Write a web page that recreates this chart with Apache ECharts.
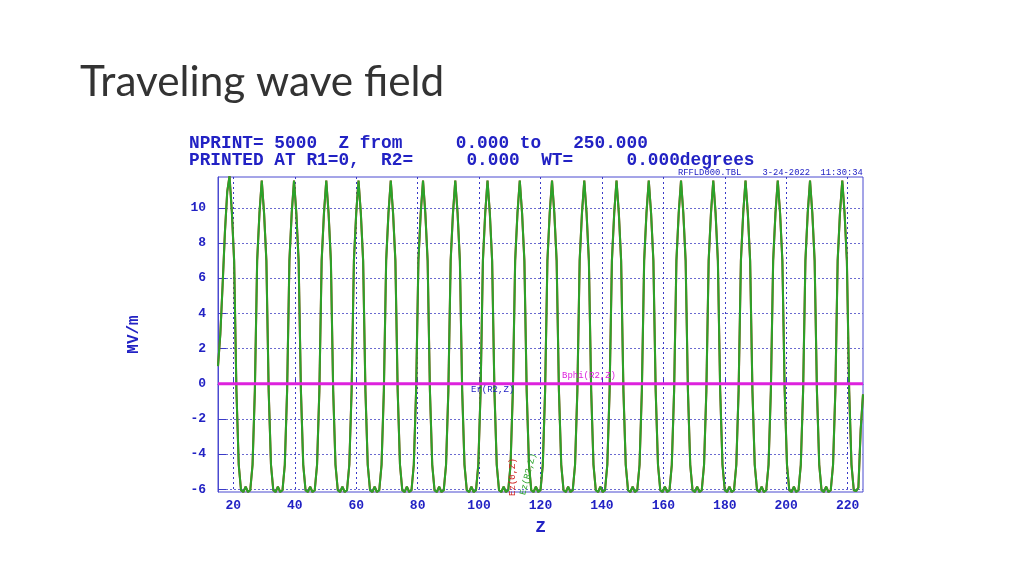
<!DOCTYPE html>
<html>
<head>
<meta charset="utf-8">
<script src="https://cdn.jsdelivr.net/npm/echarts@6/dist/echarts.min.js"></script>
<style>html,body{margin:0;padding:0;background:#fff;}#c{width:1024px;height:576px;}</style>
</head>
<body>
<div id="c"></div>
<script>
// ---- data ----
const zValues = [
  15, 15.75, 16.5, 17.25, 18,
  18.75, 19.5, 20.25, 21, 21.75, 22.5, 23.25, 24, 24.75, 25.5, 26.25, 27, 27.75, 28.5,
  29.25, 30, 30.75, 31.5, 32.25, 33, 33.75, 34.5, 35.25, 36, 36.75, 37.5, 38.25, 39,
  39.75, 40.5, 41.25, 42, 42.75, 43.5, 44.25, 45, 45.75, 46.5, 47.25, 48, 48.75, 49.5,
  50.25, 51, 51.75, 52.5, 53.25, 54, 54.75, 55.5, 56.25, 57, 57.75, 58.5, 59.25, 60,
  60.75, 61.5, 62.25, 63, 63.75, 64.5, 65.25, 66, 66.75, 67.5, 68.25, 69, 69.75, 70.5,
  71.25, 72, 72.75, 73.5, 74.25, 75, 75.75, 76.5, 77.25, 78, 78.75, 79.5, 80.25, 81,
  81.75, 82.5, 83.25, 84, 84.75, 85.5, 86.25, 87, 87.75, 88.5, 89.25, 90, 90.75, 91.5,
  92.25, 93, 93.75, 94.5, 95.25, 96, 96.75, 97.5, 98.25, 99, 99.75, 100.5, 101.25, 102,
  102.75, 103.5, 104.25, 105, 105.75, 106.5, 107.25, 108, 108.75, 109.5, 110.25, 111, 111.75, 112.5,
  113.25, 114, 114.75, 115.5, 116.25, 117, 117.75, 118.5, 119.25, 120, 120.75, 121.5, 122.25, 123,
  123.75, 124.5, 125.25, 126, 126.75, 127.5, 128.25, 129, 129.75, 130.5, 131.25, 132, 132.75, 133.5,
  134.25, 135, 135.75, 136.5, 137.25, 138, 138.75, 139.5, 140.25, 141, 141.75, 142.5, 143.25, 144,
  144.75, 145.5, 146.25, 147, 147.75, 148.5, 149.25, 150, 150.75, 151.5, 152.25, 153, 153.75, 154.5,
  155.25, 156, 156.75, 157.5, 158.25, 159, 159.75, 160.5, 161.25, 162, 162.75, 163.5, 164.25, 165,
  165.75, 166.5, 167.25, 168, 168.75, 169.5, 170.25, 171, 171.75, 172.5, 173.25, 174, 174.75, 175.5,
  176.25, 177, 177.75, 178.5, 179.25, 180, 180.75, 181.5, 182.25, 183, 183.75, 184.5, 185.25, 186,
  186.75, 187.5, 188.25, 189, 189.75, 190.5, 191.25, 192, 192.75, 193.5, 194.25, 195, 195.75, 196.5,
  197.25, 198, 198.75, 199.5, 200.25, 201, 201.75, 202.5, 203.25, 204, 204.75, 205.5, 206.25, 207,
  207.75, 208.5, 209.25, 210, 210.75, 211.5, 212.25, 213, 213.75, 214.5, 215.25, 216, 216.75, 217.5,
  218.25, 219, 219.75, 220.5, 221.25, 222, 222.75, 223.5, 224.25, 225
];
const ezValues = [
  1.0, 2.8, 5.6, 8.6, 10.9,
  11.8, 9.8, 7.0, -0.4, -4.6, -6.05, -6.15, -5.85, -6.15, -6.05, -4.6, -0.4, 7.0, 9.7,
  11.55, 9.7, 7.0, -0.4, -4.6, -6.05, -6.15, -5.85, -6.15, -6.05, -4.6, -0.4, 7.0, 9.7,
  11.55, 9.7, 7.0, -0.4, -4.6, -6.05, -6.15, -5.85, -6.15, -6.05, -4.6, -0.4, 7.0, 9.7,
  11.55, 9.7, 7.0, -0.4, -4.6, -6.05, -6.15, -5.85, -6.15, -6.05, -4.6, -0.4, 7.0, 9.7,
  11.55, 9.7, 7.0, -0.4, -4.6, -6.05, -6.15, -5.85, -6.15, -6.05, -4.6, -0.4, 7.0, 9.7,
  11.55, 9.7, 7.0, -0.4, -4.6, -6.05, -6.15, -5.85, -6.15, -6.05, -4.6, -0.4, 7.0, 9.7,
  11.55, 9.7, 7.0, -0.4, -4.6, -6.05, -6.15, -5.85, -6.15, -6.05, -4.6, -0.4, 7.0, 9.7,
  11.55, 9.7, 7.0, -0.4, -4.6, -6.05, -6.15, -5.85, -6.15, -6.05, -4.6, -0.4, 7.0, 9.7,
  11.55, 9.7, 7.0, -0.4, -4.6, -6.05, -6.15, -5.85, -6.15, -6.05, -4.6, -0.4, 7.0, 9.7,
  11.55, 9.7, 7.0, -0.4, -4.6, -6.05, -6.15, -5.85, -6.15, -6.05, -4.6, -0.4, 7.0, 9.7,
  11.55, 9.7, 7.0, -0.4, -4.6, -6.05, -6.15, -5.85, -6.15, -6.05, -4.6, -0.4, 7.0, 9.7,
  11.55, 9.7, 7.0, -0.4, -4.6, -6.05, -6.15, -5.85, -6.15, -6.05, -4.6, -0.4, 7.0, 9.7,
  11.55, 9.7, 7.0, -0.4, -4.6, -6.05, -6.15, -5.85, -6.15, -6.05, -4.6, -0.4, 7.0, 9.7,
  11.55, 9.7, 7.0, -0.4, -4.6, -6.05, -6.15, -5.85, -6.15, -6.05, -4.6, -0.4, 7.0, 9.7,
  11.55, 9.7, 7.0, -0.4, -4.6, -6.05, -6.15, -5.85, -6.15, -6.05, -4.6, -0.4, 7.0, 9.7,
  11.55, 9.7, 7.0, -0.4, -4.6, -6.05, -6.15, -5.85, -6.15, -6.05, -4.6, -0.4, 7.0, 9.7,
  11.55, 9.7, 7.0, -0.4, -4.6, -6.05, -6.15, -5.85, -6.15, -6.05, -4.6, -0.4, 7.0, 9.7,
  11.55, 9.7, 7.0, -0.4, -4.6, -6.05, -6.15, -5.85, -6.15, -6.05, -4.6, -0.4, 7.0, 9.7,
  11.55, 9.7, 7.0, -0.4, -4.6, -6.05, -6.15, -5.85, -6.15, -6.05, -4.6, -0.4, 7.0, 9.7,
  11.55, 9.7, 7.0, -0.4, -4.6, -6.05, -6.1, -5.9, -2.6, -0.6
];
const erZ = [15, 225];
const erValues = [0, 0];
const bphiZ = [15, 225];
const bphiValues = [0, 0];
const xTicks = [20, 40, 60, 80, 100, 120, 140, 160, 180, 200, 220];
const yTicks = [-6, -4, -2, 0, 2, 4, 6, 8, 10];
const xRange = [15, 225];
const yRange = [-6.15, 11.75];

// ---- chart ----
const BLUE = '#2222c4';
const MONO = '"Liberation Mono", "DejaVu Sans Mono", monospace';
const pairs = (xs, ys) => xs.map((x, i) => [x, ys[i]]);

const chart = echarts.init(document.getElementById('c'), null, {renderer: 'canvas'});
chart.setOption({
  backgroundColor: '#ffffff',
  animation: false,
  grid: {left: 218, top: 177, width: 645, height: 315, show: true,
         borderColor: '#4a4ad0', borderWidth: 1, backgroundColor: 'transparent'},
  xAxis: {
    type: 'value', min: xRange[0], max: xRange[1],
    name: 'Z', nameLocation: 'middle', nameGap: 27,
    nameTextStyle: {fontFamily: MONO, fontWeight: 'bold', fontSize: 17, color: BLUE},
    axisLine: {show: true, lineStyle: {color: '#4a4ad0', width: 1}},
    axisTick: {show: true, inside: true, length: 6, customValues: xTicks, lineStyle: {color: '#3a3ac8'}},
    axisLabel: {customValues: xTicks, margin: 7, fontFamily: MONO, fontWeight: 'bold', fontSize: 13, color: BLUE},
    splitLine: {show: true, lineStyle: {color: '#3a3ac8', type: [2, 3], width: 1}}
  },
  yAxis: {
    type: 'value', min: yRange[0], max: yRange[1],
    name: 'MV/m', nameLocation: 'middle', nameGap: 76, nameRotate: 90,
    nameTextStyle: {fontFamily: MONO, fontWeight: 'bold', fontSize: 16, color: BLUE},
    axisLine: {show: true, lineStyle: {color: '#4a4ad0', width: 1}},
    axisTick: {show: true, inside: true, length: 8, customValues: yTicks, lineStyle: {color: '#3a3ac8'}},
    axisLabel: {customValues: yTicks, margin: 12, fontFamily: MONO, fontWeight: 'bold', fontSize: 13, color: BLUE},
    splitLine: {show: true, lineStyle: {color: '#6a6ad0', type: [2, 2], width: 1}}
  },
  series: [
    {name: 'Ez(0,Z)', type: 'line', data: pairs(zValues, ezValues), showSymbol: false, z: 2,
     lineStyle: {color: '#b83a20', width: 2.1}},
    {name: 'Ez(R2,Z)', type: 'line', data: pairs(zValues, ezValues), showSymbol: false, z: 3,
     lineStyle: {color: '#2aa32a', width: 2}},
    {name: 'Er(R2,Z)', type: 'line', data: pairs(erZ, erValues), showSymbol: false, z: 4,
     lineStyle: {color: '#2222c4', width: 1}},
    {name: 'Bphi(R2,Z)', type: 'line', data: pairs(bphiZ, bphiValues), showSymbol: false, z: 5,
     lineStyle: {color: '#dd22dd', width: 2.8}}
  ],
  graphic: [
    {type: 'text', left: 80, top: 61, style: {text: 'Traveling wave field', font: '42.3px Lato, "Open Sans", sans-serif', fill: '#333333'}},
    {type: 'text', x: 189, y: 144, style: {text: 'NPRINT= 5000  Z from     0.000 to   250.000', font: 'bold 17.8px ' + MONO, fill: BLUE, verticalAlign: 'middle'}},
    {type: 'text', x: 189, y: 161, style: {text: 'PRINTED AT R1=0,  R2=     0.000  WT=     0.000degrees', font: 'bold 17.8px ' + MONO, fill: BLUE, verticalAlign: 'middle'}},
    {type: 'text', x: 678, y: 173, style: {text: 'RFFLD000.TBL    3-24-2022  11:30:34', font: '8.8px ' + MONO, fill: BLUE, verticalAlign: 'middle'}},
    {type: 'text', x: 562, y: 376, z: 10, style: {text: 'Bphi(R2,Z)', font: '9px ' + MONO, fill: '#dd22dd', verticalAlign: 'middle'}},
    {type: 'text', x: 471, y: 390, z: 10, style: {text: 'Er(R2,Z)', font: '9px ' + MONO, fill: '#2222c4', verticalAlign: 'middle'}},
    {type: 'text', x: 513, y: 477, rotation: Math.PI / 2, z: 10, style: {text: 'Ez(0,Z)', font: '9px ' + MONO, fill: '#d02020', align: 'center', verticalAlign: 'middle'}},
    {type: 'text', x: 528, y: 474, rotation: Math.PI * 0.42, z: 10, style: {text: 'Ez(R2,Z)', font: '9px ' + MONO, fill: '#2aa32a', align: 'center', verticalAlign: 'middle'}}
  ]
});
</script>
</body>
</html>
